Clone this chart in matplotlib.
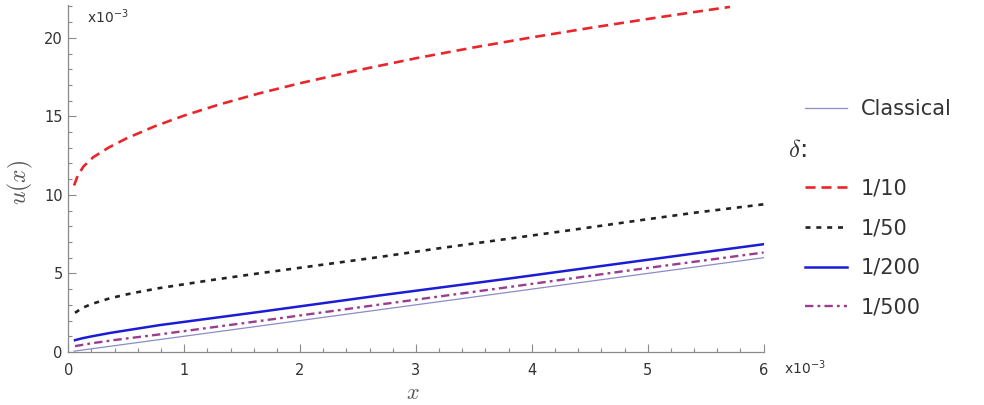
import matplotlib
matplotlib.use("Agg")
from matplotlib import pyplot as plt
from matplotlib.lines import Line2D
from matplotlib.ticker import MultipleLocator

# values are in units of 1e-3
x_classical = [0.05, 1.0, 2.0, 3.0, 4.0, 5.0, 6.0]
u_classical = [0.05, 1.0, 2.0, 3.0, 4.0, 5.0, 6.0]

x_d10 = [0.05, 0.08, 0.13, 0.215, 0.35, 0.5, 0.75, 1.0, 1.3, 1.65, 2.0, 2.5,
         3.0, 3.5, 4.0, 4.5, 5.0, 5.4, 5.71]
u_d10 = [10.6, 11.2, 11.8, 12.4, 13.02, 13.59, 14.38, 15.05, 15.75, 16.47,
         17.11, 17.94, 18.7, 19.39, 20.03, 20.63, 21.2, 21.64, 21.97]

x_d50 = [0.058, 0.12, 0.2, 0.36, 0.55, 0.79, 1.22, 1.63, 2.1, 2.69, 3.2, 3.81,
         4.3, 4.87, 5.4, 6.0]
u_d50 = [2.49, 2.8, 3.05, 3.42, 3.74, 4.07, 4.56, 4.99, 5.46, 6.05, 6.6, 7.22,
         7.72, 8.32, 8.86, 9.4]

x_d200 = [0.058, 0.12, 0.2, 0.36, 0.79, 1.22, 1.63, 2.69, 3.81, 4.87, 6.0]
u_d200 = [0.75, 0.87, 0.99, 1.21, 1.71, 2.13, 2.53, 3.6, 4.68, 5.74, 6.86]

x_d500 = [0.058, 0.2, 0.4, 0.79, 1.63, 2.69, 3.81, 4.87, 6.0]
u_d500 = [0.37, 0.55, 0.76, 1.12, 1.95, 3.02, 4.14, 5.22, 6.33]

labels = ['Classical', '1/10', '1/50', '1/200', '1/500']

plt.rcParams['font.family'] = ['DejaVu Sans']
plt.rcParams['mathtext.fontset'] = 'cm'
plt.rcParams['lines.scale_dashes'] = False

fig = plt.figure(figsize=(9.84, 4.05), dpi=100)
ax = fig.add_axes([0.0694, 0.131, 0.7066, 0.857])

l_cl, = ax.plot(x_classical, u_classical, color='#8c8cc8', lw=0.9)
l10, = ax.plot(x_d10, u_d10, color='#e8262b', lw=1.9, dashes=(7.2, 4.3))
l50, = ax.plot(x_d50, u_d50, color='#222222', lw=1.9, dashes=(3.6, 4.2))
l200, = ax.plot(x_d200, u_d200, color='#1c1cd6', lw=1.8)
l500, = ax.plot(x_d500, u_d500, color='#9a3d8e', lw=1.7, dashes=(6, 3, 2, 3))

ax.set_xlim(0, 6)
ax.set_ylim(0, 22.1)
ax.xaxis.set_major_locator(MultipleLocator(1))
ax.xaxis.set_minor_locator(MultipleLocator(0.2))
ax.yaxis.set_major_locator(MultipleLocator(5))
ax.yaxis.set_minor_locator(MultipleLocator(1))

for s in ['top', 'right']:
    ax.spines[s].set_visible(False)
for s in ['left', 'bottom']:
    ax.spines[s].set_color('#8a8a8a')
    ax.spines[s].set_linewidth(0.9)

ax.tick_params(which='both', direction='in', color='#8a8a8a', width=0.8)
ax.tick_params(which='major', length=5.5, labelsize=10.5, labelcolor='#333333')
ax.tick_params(which='minor', length=3)
ax.tick_params(axis='x', which='major', pad=8)
ax.tick_params(axis='y', which='major', pad=4)

fig.text(0.088, 0.958, r'x10$^{\mathregular{-3}}$', fontsize=10, color='#333333',
         va='center', ha='left', family='DejaVu Sans')
fig.text(0.797, 0.091, r'x10$^{\mathregular{-3}}$', fontsize=10, color='#333333',
         va='center', ha='left', family='DejaVu Sans')

fig.text(0.021, 0.55, r'$u(x)$', fontsize=17, color='#555555', rotation=90,
         ha='center', va='center')
fig.text(0.42, 0.004, r'$x$', fontsize=16, color='#555555', ha='center', va='bottom')

blank = Line2D([], [], color='none')
handles = [l_cl, blank, l10, l50, l200, l500]
leg_labels = [labels[0], ' '] + labels[1:]
leg = ax.legend(handles, leg_labels, loc='upper left', bbox_to_anchor=(0.818, 0.756),
                bbox_transform=fig.transFigure, frameon=False, fontsize=15,
                handlelength=2.0, handletextpad=0.7, labelspacing=0.95,
                borderpad=0, borderaxespad=0)
for t in leg.get_texts():
    t.set_color('#333333')

fig.text(0.81, 1 - 150 / 405, r'$\delta$:', fontsize=18, color='#333333',
         ha='center', va='center')

fig.savefig('out.png', dpi=100)
